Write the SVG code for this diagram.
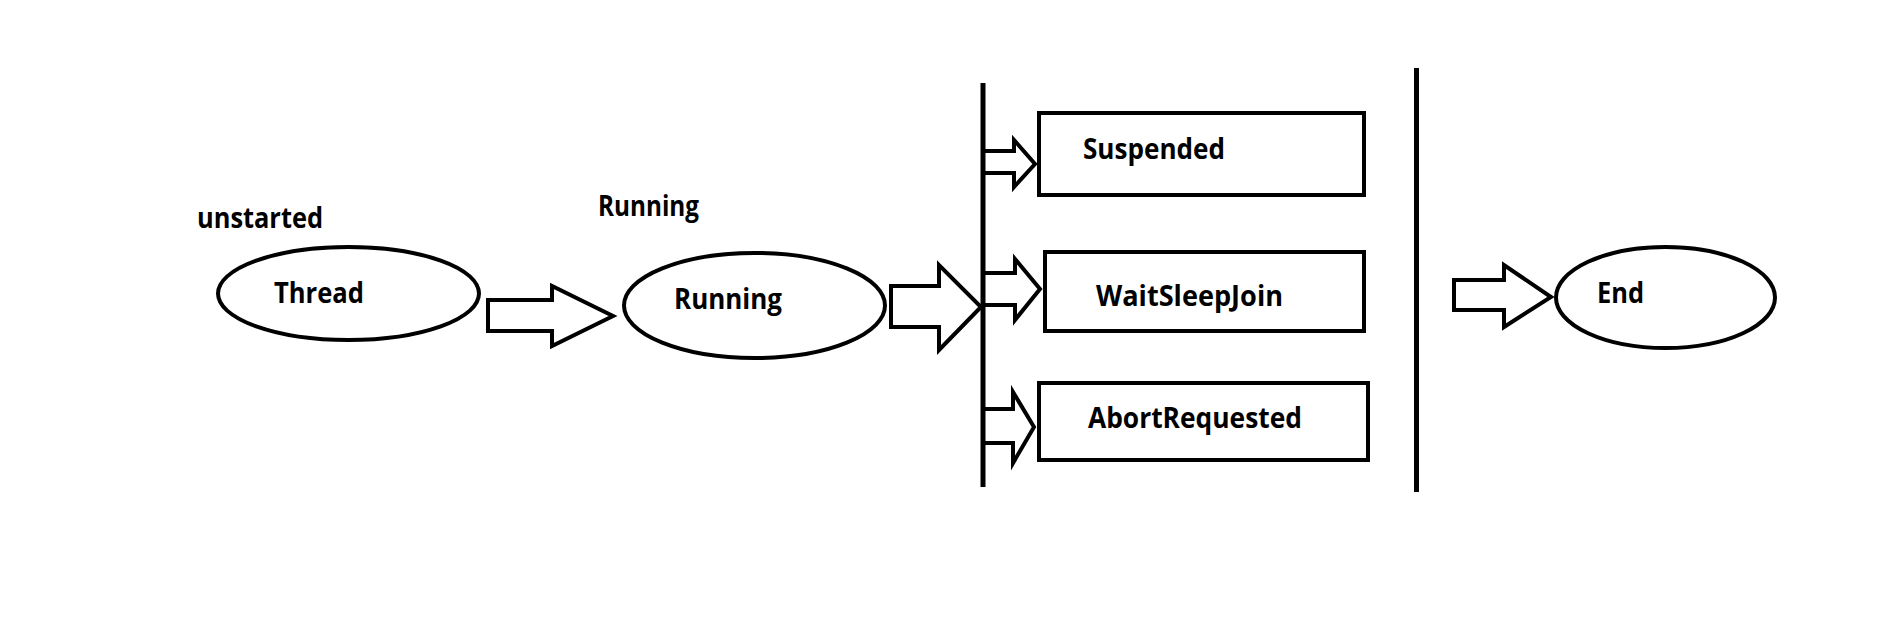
<svg xmlns="http://www.w3.org/2000/svg" width="1883" height="633" viewBox="0 0 1883 633">
<style>
.shape{fill:#fff;stroke:#000;stroke-width:4}
.arrow{fill:#fff;stroke:#000;stroke-width:4;stroke-linejoin:miter}
.bar{stroke:#000;stroke-width:5}
text{font-family:"Open Sans","Noto Sans","Liberation Sans",sans-serif;font-weight:bold;font-size:28px;fill:#000}
</style>
<rect width="1883" height="633" fill="#fff"/>
<g id="label-unstarted"><text x="197" y="228" textLength="126" lengthAdjust="spacingAndGlyphs">unstarted</text></g>
<g id="label-running"><text x="598" y="216" textLength="101" lengthAdjust="spacingAndGlyphs">Running</text></g>
<g id="node-thread">
<ellipse class="shape" cx="348.5" cy="293.5" rx="130.5" ry="46.5"/>
<text x="274" y="303" textLength="90" lengthAdjust="spacingAndGlyphs">Thread</text>
</g>
<g id="node-running">
<ellipse class="shape" cx="754.5" cy="305.5" rx="130.5" ry="52.5"/>
<text x="674" y="309" textLength="108" lengthAdjust="spacingAndGlyphs">Running</text>
</g>
<g id="node-suspended">
<rect class="shape" x="1039" y="113" width="325" height="82"/>
<text x="1083" y="159" textLength="142" lengthAdjust="spacingAndGlyphs">Suspended</text>
</g>
<g id="node-waitsleepjoin">
<rect class="shape" x="1045" y="252" width="319" height="79"/>
<text x="1096" y="306" textLength="187" lengthAdjust="spacingAndGlyphs">WaitSleepJoin</text>
</g>
<g id="node-abortrequested">
<rect class="shape" x="1039" y="383" width="329" height="77"/>
<text x="1088" y="428" textLength="214" lengthAdjust="spacingAndGlyphs">AbortRequested</text>
</g>
<g id="node-end">
<ellipse class="shape" cx="1665.5" cy="297.5" rx="109.5" ry="50.5"/>
<text x="1597" y="303" textLength="47" lengthAdjust="spacingAndGlyphs">End</text>
</g>
<g id="connectors">
<polygon class="arrow" points="488,300 552,300 552,286 613,316 552,346 552,331 488,331"/>
<polygon class="arrow" points="891,286 939,286 939,265 981,307 939,350 939,327 891,327"/>
<polygon class="arrow" points="983,151 1014,151 1014,140 1035,164 1014,187 1014,173 983,173"/>
<polygon class="arrow" points="983,273 1015,273 1015,259 1040,289 1015,320 1015,305 983,305"/>
<polygon class="arrow" points="983,409 1013,409 1013,392 1034,427 1013,463 1013,443 983,443"/>
<polygon class="arrow" points="1454,280 1504,280 1504,265 1551,297 1504,327 1504,310 1454,310"/>
<line class="bar" x1="983" y1="83" x2="983" y2="487"/>
<line class="bar" x1="1416.5" y1="68" x2="1416.5" y2="492"/>
</g>
</svg>
